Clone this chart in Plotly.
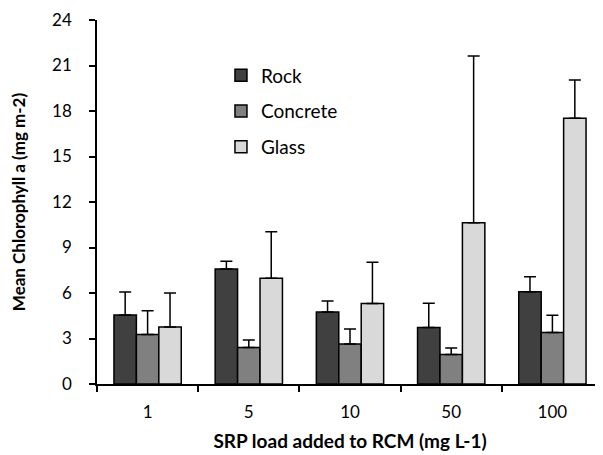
import plotly.graph_objects as go

categories = ["1", "5", "10", "50", "100"]
rock = [4.55, 7.58, 4.75, 3.73, 6.09]
rock_err = [1.51, 0.52, 0.72, 1.59, 0.98]
concrete = [3.27, 2.40, 2.64, 1.95, 3.40]
concrete_err = [1.56, 0.50, 0.98, 0.42, 1.13]
glass = [3.76, 6.97, 5.30, 10.63, 17.53]
glass_err = [2.24, 3.07, 2.72, 10.99, 2.51]

series = [
    ("Rock", rock, rock_err, "#404040"),
    ("Concrete", concrete, concrete_err, "#808080"),
    ("Glass", glass, glass_err, "#D9D9D9"),
]

FONT = "Lato"
FS = 17

fig = go.Figure()
for i, (name, vals, errs, col) in enumerate(series):
    fig.add_trace(go.Bar(
        name=name, x=categories, y=vals,
        marker=dict(color=col, line=dict(color="black", width=1.5)),
        error_y=dict(type="data", array=errs, arrayminus=[0]*len(errs), symmetric=False,
                     color="black", thickness=1.5, width=6),
        legendgroup=name,
    ))

fig.update_layout(
    width=603, height=455,
    margin=dict(l=89, r=8, t=12, b=79, autoexpand=False),
    paper_bgcolor="white", plot_bgcolor="white",
    barmode="group", bargap=0.335, bargroupgap=0,
    font=dict(family=FONT, size=FS, color="black"),
    legend=dict(x=0.245, y=0.9, xanchor="left", yanchor="top",
                bgcolor="rgba(0,0,0,0)", font=dict(size=19, family=FONT),
                traceorder="grouped", tracegroupgap=8, itemwidth=30),
    showlegend=True,
)
fig.update_xaxes(
    type="category", showline=True, linecolor="black", linewidth=1.5,
    ticks="outside", tickson="boundaries", ticklen=6, tickwidth=1.5, tickcolor="black",
    ticklabelstandoff=12,
    showgrid=False,
    title=dict(text="<b>SRP load added to RCM (mg L-1)</b>", font=dict(size=19, family=FONT), standoff=14),
)
fig.update_yaxes(
    range=[0, 24], dtick=3, tick0=0, showline=True, linecolor="black", linewidth=1.5,
    ticks="outside", ticklen=6, tickwidth=1.5, tickcolor="black",
    ticklabelstandoff=14,
    showgrid=False, zeroline=False,
    title=dict(text="<b>Mean Chlorophyll a (mg m-2)</b>", font=dict(size=FS, family=FONT), standoff=28),
)

fig.write_html("out.html")
